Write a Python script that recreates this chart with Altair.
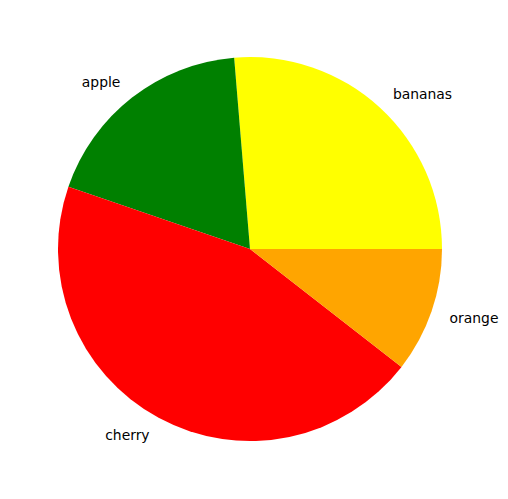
import math
import altair as alt
import pandas as pd

fruits = ["bananas", "apple", "cherry", "orange"]
values = [5, 3.5, 8.5, 2]
colors = ["yellow", "green", "red", "orange"]

df = pd.DataFrame({"fruit": fruits, "value": values, "order": list(range(len(fruits)))})
total = float(sum(values))

theta_scale = alt.Scale(domain=[0, total], nice=False, zero=True,
                        range=[math.pi / 2, math.pi / 2 - 2 * math.pi])

base = (
    alt.Chart(df)
    .transform_window(cum="sum(value)", sort=[{"field": "order"}], frame=[None, 0])
    .transform_joinaggregate(total="sum(value)")
    .transform_calculate(
        start="datum.cum - datum.value",
        mid="datum.cum - datum.value / 2",
        side="cos(2 * PI * (datum.cum - datum.value / 2) / datum.total) >= 0 ? 'right' : 'left'",
    )
)

arc = base.mark_arc(outerRadius=192).encode(
    theta=alt.Theta("start:Q", scale=theta_scale, stack=False),
    theta2="cum:Q",
    color=alt.Color("fruit:N", scale=alt.Scale(domain=fruits, range=colors), legend=None),
)

text_right = base.transform_filter("datum.side == 'right'").mark_text(
    radius=211, align="left", baseline="middle", dy=1, font="DejaVu Sans", fontSize=13.9, color="black"
).encode(theta=alt.Theta("mid:Q", scale=theta_scale, stack=False), text="fruit:N")

text_left = base.transform_filter("datum.side == 'left'").mark_text(
    radius=211, align="right", baseline="middle", dy=1, font="DejaVu Sans", fontSize=13.9, color="black"
).encode(theta=alt.Theta("mid:Q", scale=theta_scale, stack=False), text="fruit:N")

chart = (
    alt.layer(arc, text_right, text_left)
    .properties(width=484, height=482, padding=0, background="white")
    .configure_view(stroke=None)
)

chart.save("out.html", embed_options={"renderer": "svg", "actions": False})
